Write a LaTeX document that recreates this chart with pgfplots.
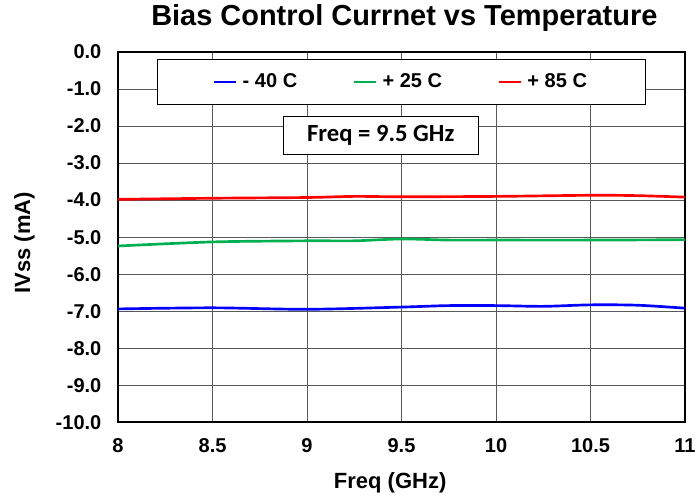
\documentclass[border=0pt]{standalone}
\usepackage{pgfplots}
\pgfplotsset{compat=1.18}
\usepackage{fontspec}
\setmainfont{Liberation Sans}
\newfontfamily\calib{Carlito}
\definecolor{cblue}{RGB}{0,0,255}
\definecolor{cgreen}{RGB}{0,176,80}
\definecolor{cred}{RGB}{255,0,0}
\begin{document}
\begin{tikzpicture}
\begin{axis}[
  name=ax,
  scale only axis,
  width=425pt, height=277.5pt,
  xmin=8, xmax=11, ymin=-10, ymax=0,
  xtick={8,8.5,...,11}, ytick={-10,-9,...,0},
  xticklabels={8,8.5,9,9.5,10,10.5,11},
  yticklabel={\pgfmathprintnumber[fixed,fixed zerofill,precision=1]{\tick}},
  /pgf/number format/assume math mode=true,
  tick label style={font=\bfseries\fontsize{15}{17}\selectfont},
  xticklabel style={yshift=-9pt},
  yticklabel style={xshift=-9pt},
  xlabel={Freq (GHz)}, ylabel={IVss (mA)},
  label style={font=\bfseries\fontsize{16.5}{19}\selectfont},
  xlabel style={at={(axis description cs:0.48,-0.1784)}, anchor=base},
  ylabel style={at={(axis description cs:-0.165,0.485)}, anchor=center},
  title={Bias Control Currnet vs Temperature},
  title style={font=\bfseries\fontsize{21.7}{25}\selectfont,
    at={(axis description cs:0.505,1.0505)}, anchor=base},
  grid=major, major grid style={black!65, line width=0.7pt},
  axis line style={black, line width=1.5pt},
  tick style={draw=none},
  legend style={at={(0.5,0.982)}, anchor=north, legend columns=3,
    font=\bfseries\fontsize{15}{17}\selectfont, line width=0.7pt,
    /tikz/every even column/.append style={column sep=40pt},
    /tikz/every odd column/.append style={column sep=2pt},
    inner xsep=42pt, inner ysep=9pt},
  legend image code/.code={\draw[#1, line width=1.5pt] (0pt,0pt) -- (16.5pt,0pt);},
]
\addplot[draw=cblue, line width=2pt, smooth] coordinates {
(8,-6.94) (8.5,-6.91) (9,-6.95) (9.5,-6.89) (9.75,-6.85) (10,-6.85) (10.25,-6.87) (10.5,-6.83) (10.75,-6.84) (11,-6.92)};
\addlegendentry{- 40 C}
\addplot[draw=cgreen, line width=2pt, smooth] coordinates {
(8,-5.24) (8.5,-5.13) (9,-5.10) (9.25,-5.10) (9.5,-5.05) (9.75,-5.08) (10,-5.08) (10.5,-5.08) (11,-5.07)};
\addlegendentry{+ 25 C}
\addplot[draw=cred, line width=2pt, smooth] coordinates {
(8,-3.98) (8.5,-3.95) (9,-3.93) (9.25,-3.90) (9.5,-3.91) (10,-3.90) (10.5,-3.87) (10.75,-3.88) (11,-3.92)};
\addlegendentry{+ 85 C}
\node[draw=black, line width=0.7pt, fill=white, font=\calib\bfseries\fontsize{18.5}{21}\selectfont,
  inner xsep=18pt, inner ysep=6.5pt] at (axis cs:9.39,-2.25) {Freq = 9.5 GHz};
\end{axis}
\pgfresetboundingbox
\path[use as bounding box] ([xshift=-88.5pt,yshift=-55pt]ax.south west) rectangle ([xshift=7.5pt,yshift=39pt]ax.north east);
\end{tikzpicture}
\end{document}
